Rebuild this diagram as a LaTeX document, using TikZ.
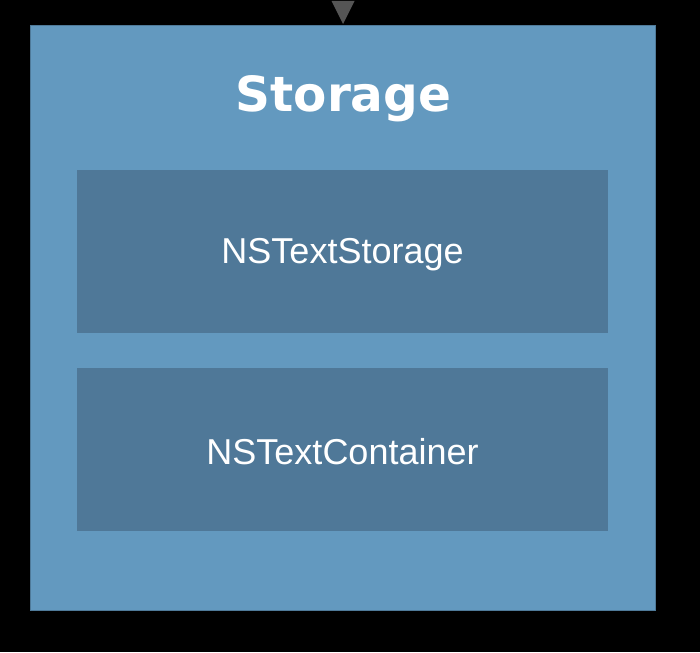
\documentclass[tikz,border=0pt]{standalone}
\usepackage{fontspec}
\setmainfont{Liberation Sans}
\newfontfamily\boldfam{DejaVu Sans}
\definecolor{outerc}{HTML}{6399BF}
\definecolor{innerc}{HTML}{4F7898}
\definecolor{arrowc}{HTML}{555555}
\begin{document}
\begin{tikzpicture}[x=1pt,y=-1pt,
  outerbox/.style={fill=outerc,draw=outerc!80!black,line width=0.6pt},
  innerbox/.style={fill=innerc,draw=none},
  lbl/.style={text=white,font=\fontsize{36}{40}\selectfont,inner sep=0pt}]
\fill[black] (0,0) rectangle (700,652);
\useasboundingbox (0,0) rectangle (700,652);
\draw[outerbox] (30,25) rectangle (655,610);
\node[text=white,font=\boldfam\bfseries\fontsize{48.5}{54}\selectfont,inner sep=0pt] (title) at (343.5,99) {Storage};
\node[innerbox,minimum width=531pt,minimum height=162pt,inner sep=0pt] (ts) at (342.5,251.5) {};
\node[lbl] (tst) at ([yshift=-3pt]ts.center) {NSTextStorage};
\node[innerbox,minimum width=531pt,minimum height=163pt,inner sep=0pt] (tc) at (342.5,449.5) {};
\node[lbl] (tct) at ([yshift=-2pt]tc.center) {NSTextContainer};
\coordinate (tip) at (343,24);
\fill[arrowc] (tip) -- (331.5,1) -- (354.5,1) -- cycle;
\end{tikzpicture}
\end{document}
